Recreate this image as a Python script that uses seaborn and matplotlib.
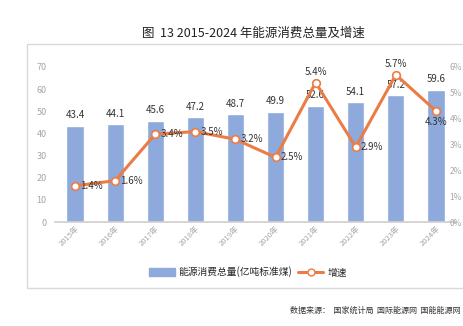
import matplotlib
matplotlib.use("Agg")
import matplotlib.pyplot as plt
import matplotlib.patches as mpatches
from matplotlib.lines import Line2D
import seaborn as sns
import numpy as np
import pandas as pd

years = ["2015年", "2016年", "2017年", "2018年", "2019年", "2020年", "2021年", "2022年", "2023年", "2024年"]
consumption = [43.4, 44.1, 45.6, 47.2, 48.7, 49.9, 52.6, 54.1, 57.2, 59.6]
growth = [1.4, 1.6, 3.4, 3.5, 3.2, 2.5, 5.4, 2.9, 5.7, 4.3]
label_pos = ["right", "right", "right", "right", "right", "right", "above", "right", "above", "below"]
left_ticks = [0, 10, 20, 30, 40, 50, 60, 70]
right_ticks = [0, 1, 2, 3, 4, 5, 6]

sns.set_theme(style="white")
plt.rcParams['font.family'] = ['Noto Sans CJK SC', 'DejaVu Sans']

BAR = "#8EA9DB"
LINE = "#EC7C45"
GRAY = "#A6A6A6"

fig = plt.figure(figsize=(4.63, 3.26), dpi=100)
W, H = 463, 326
ax = fig.add_axes([55 / W, 1 - 222 / H, (456 - 55) / W, (222 - 67) / H])

df = pd.DataFrame({"year": years, "value": consumption})
sns.barplot(data=df, x="year", y="value", color=BAR, width=0.43, ax=ax, saturation=1)
ax.set_xlim(-0.5, len(years) - 0.5)
ax.set_ylim(0, 70)
ax.set_yticks(left_ticks)
ax.set_xlabel("")
ax.set_ylabel("")
for s in ["top", "right", "left"]:
    ax.spines[s].set_visible(False)
ax.spines["bottom"].set_color("#D0D0D0")
ax.tick_params(axis="y", labelsize=6.5, labelcolor=GRAY, length=0, pad=6)
ax.tick_params(axis="x", labelsize=5.5, labelcolor=GRAY, length=0, pad=2)
for lbl in ax.get_xticklabels():
    lbl.set_rotation(45)
    lbl.set_ha("right")
    lbl.set_rotation_mode("anchor")

for i, v in enumerate(consumption):
    ax.text(i, v + 2.5, f"{v:.1f}", ha="center", va="bottom", fontsize=7, color="#333333")

ax2 = ax.twinx()
ax2.set_position(ax.get_position())
sns.lineplot(x=np.arange(len(growth)), y=growth, ax=ax2, color=LINE, linewidth=2.2,
             marker="o", markersize=5.5, markerfacecolor="white", markeredgecolor=LINE,
             markeredgewidth=1.2)
ax2.set_ylim(0, 6)
ax2.set_yticks(right_ticks)
ax2.set_yticklabels([f"{t}%" for t in right_ticks])
ax2.set_ylabel("")
for s in ["top", "right", "left", "bottom"]:
    ax2.spines[s].set_visible(False)
ax2.tick_params(axis="y", labelsize=6, labelcolor=GRAY, length=0, pad=4.2)
for lbl in ax2.get_yticklabels():
    lbl.set_ha("right")

for i, g in enumerate(growth):
    p = label_pos[i]
    if p == "right":
        ax2.text(i + 0.13, g, f"{g}%", ha="left", va="center", fontsize=7, color="#333333")
    elif p == "above":
        ax2.text(i, g + 0.22, f"{g}%", ha="center", va="bottom", fontsize=7, color="#333333")
    else:
        ax2.text(i, g - 0.22, f"{g}%", ha="center", va="top", fontsize=7, color="#333333")

# chart frame
frame = mpatches.Rectangle((27 / W, 1 - 288 / H), (480 - 27) / W, (288 - 44) / H,
                           transform=fig.transFigure, fill=False, edgecolor="#D9D9D9",
                           linewidth=1.0, zorder=0)
fig.patches.append(frame)

handles = [mpatches.Patch(color=BAR, label="能源消费总量(亿吨标准煤)"),
           Line2D([0], [0], color=LINE, linewidth=2.2, marker="o", markersize=5,
                  markerfacecolor="white", markeredgecolor=LINE, label="增速")]
fig.legend(handles=handles, loc="center", bbox_to_anchor=(248 / W, 1 - 272 / H), ncol=2,
           frameon=False, fontsize=7, handlelength=2.6, handleheight=0.8, columnspacing=0.6,
           handletextpad=0.4)

fig.text(253 / W, 1 - 33 / H, "图  13 2015-2024 年能源消费总量及增速", ha="center", va="center",
         fontsize=9, color="#222222")
fig.text(290 / W, 1 - 310 / H, "数据来源：  国家统计局  国际能源网  国能能源网", ha="left", va="center",
         fontsize=5.8, color="#333333")

fig.savefig("out.png", dpi=100)
